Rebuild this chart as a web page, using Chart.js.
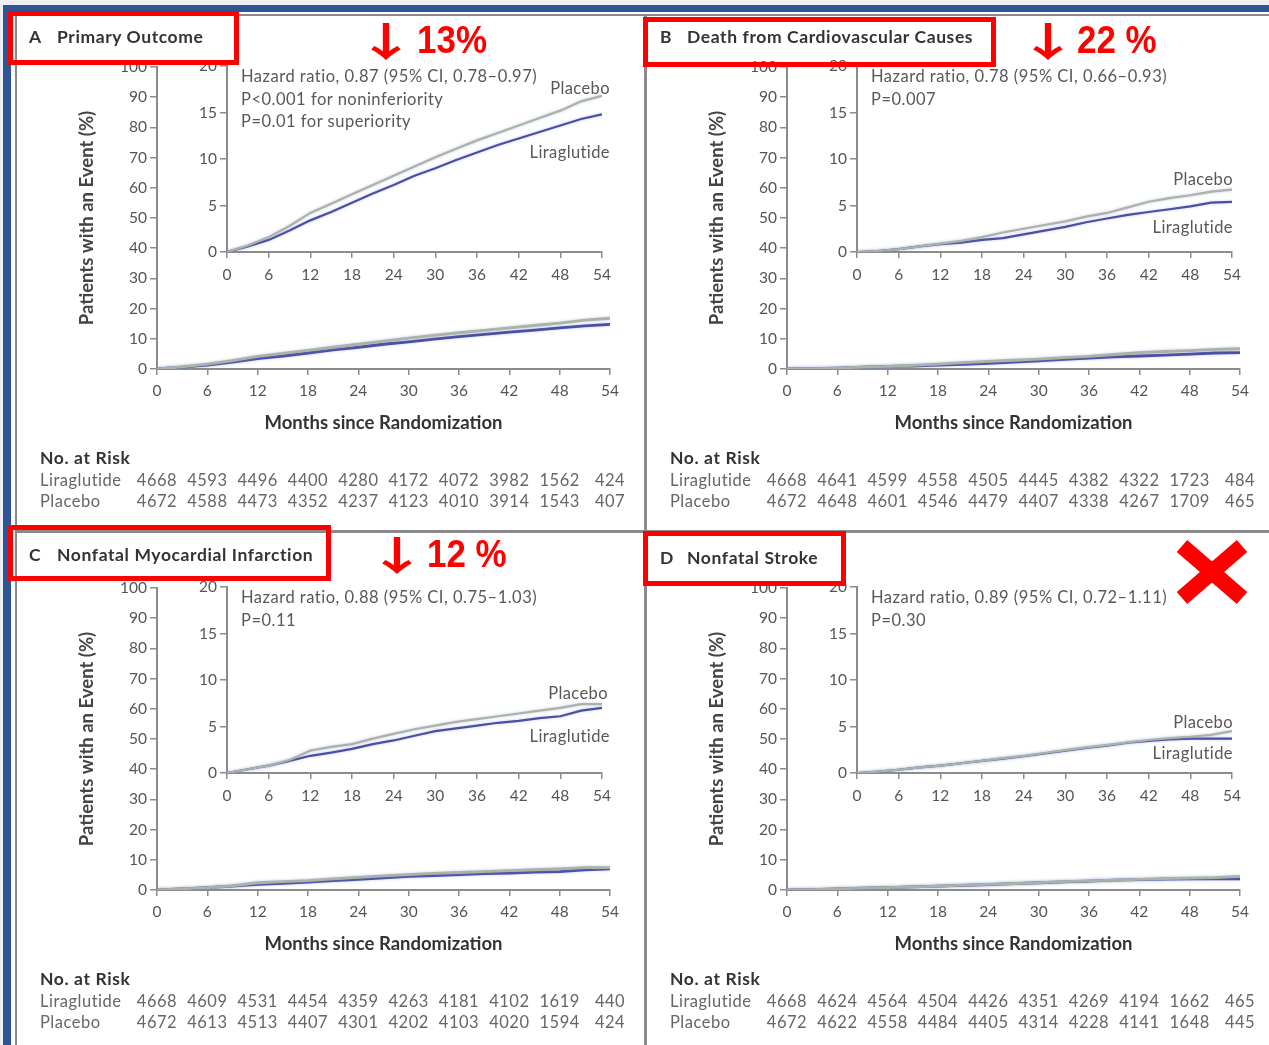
<!DOCTYPE html>
<html>
<head>
<meta charset="utf-8">
<title>LEADER trial – cumulative incidence of cardiovascular outcomes</title>
<script src="https://cdn.jsdelivr.net/npm/chart.js@4.4.1/dist/chart.umd.min.js"></script>
<style>
  html, body { margin: 0; padding: 0; background: #fff; }
  #page { position: relative; width: 1269px; height: 1045px; overflow: hidden; background: #fff;
          font-family: Lato, "Open Sans", "Liberation Sans", sans-serif; }
  .abs { position: absolute; }
  .panel { position: absolute; width: 630px; height: 521px; }
  .panel canvas { position: absolute; }
  .ttl { position: absolute; font-weight: bold; font-size: 17.5px; letter-spacing: 0.6px; color: #333; line-height: 20px; white-space: nowrap; }
  .hr { position: absolute; font-size: 16.5px; letter-spacing: 0.5px; color: #585858; line-height: 18px; white-space: nowrap; }
  .lbl { position: absolute; font-size: 16.5px; letter-spacing: 0.4px; color: #585858; line-height: 18px; white-space: nowrap; text-align: right; }
  .redbox { position: absolute; border: 5px solid #ff0000; box-sizing: border-box; }
  .redtxt { position: absolute; color: #ff0000; font: bold 38px "Liberation Sans", Arial, sans-serif; line-height: 38px;
            white-space: nowrap; transform-origin: left center; transform: scaleX(0.92); }
  .arrow { position: absolute; color: #ff0000; font: bold 40px "Noto Sans CJK SC", "DejaVu Sans", sans-serif; line-height: 40px;
           transform-origin: center center; transform: scale(1.55, 1); }
</style>
</head>
<body>
<div id="page"></div>
<script>
// ---- Time points (months since randomization) ----
const months = [0, 3, 6, 9, 12, 15, 18, 21, 24, 27, 30, 33, 36, 39, 42, 45, 48, 51, 54];
const riskMonths = [0, 6, 12, 18, 24, 30, 36, 42, 48, 54];

// ---- Cumulative incidence (%) ----
const primaryPlacebo     = [0, 0.7, 1.6, 2.8, 4.2, 5.2, 6.2, 7.2, 8.2, 9.2, 10.2, 11.1, 12.0, 12.8, 13.6, 14.4, 15.2, 16.2, 16.8];
const primaryLiraglutide = [0, 0.6, 1.3, 2.3, 3.4, 4.3, 5.3, 6.3, 7.2, 8.2, 9.0, 9.9, 10.7, 11.5, 12.2, 12.9, 13.6, 14.3, 14.8];

const cvDeathPlacebo     = [0, 0.1, 0.3, 0.6, 0.9, 1.2, 1.6, 2.1, 2.5, 2.9, 3.3, 3.8, 4.2, 4.8, 5.4, 5.8, 6.1, 6.5, 6.7];
const cvDeathLiraglutide = [0, 0.1, 0.3, 0.6, 0.85, 1.0, 1.3, 1.5, 1.9, 2.3, 2.7, 3.2, 3.6, 4.0, 4.3, 4.6, 4.9, 5.3, 5.4];

const miPlacebo          = [0, 0.4, 0.8, 1.4, 2.4, 2.8, 3.1, 3.7, 4.2, 4.7, 5.1, 5.5, 5.8, 6.1, 6.4, 6.7, 7.0, 7.4, 7.4];
const miLiraglutide      = [0, 0.4, 0.8, 1.3, 1.85, 2.2, 2.6, 3.1, 3.5, 4.0, 4.5, 4.8, 5.1, 5.4, 5.6, 5.9, 6.1, 6.7, 7.0];

const strokePlacebo      = [0, 0.15, 0.35, 0.6, 0.8, 1.05, 1.3, 1.6, 1.85, 2.15, 2.45, 2.75, 3.0, 3.3, 3.55, 3.75, 3.9, 4.1, 4.5];
const strokeLiraglutide  = [0, 0.15, 0.35, 0.6, 0.8, 1.05, 1.3, 1.55, 1.8, 2.1, 2.4, 2.7, 2.95, 3.25, 3.45, 3.6, 3.7, 3.7, 3.7];

// ---- Number at risk ----
const riskPrimaryLira = [4668, 4593, 4496, 4400, 4280, 4172, 4072, 3982, 1562, 424];
const riskPrimaryPlac = [4672, 4588, 4473, 4352, 4237, 4123, 4010, 3914, 1543, 407];
const riskCvLira      = [4668, 4641, 4599, 4558, 4505, 4445, 4382, 4322, 1723, 484];
const riskCvPlac      = [4672, 4648, 4601, 4546, 4479, 4407, 4338, 4267, 1709, 465];
const riskMiLira      = [4668, 4609, 4531, 4454, 4359, 4263, 4181, 4102, 1619, 440];
const riskMiPlac      = [4672, 4613, 4513, 4407, 4301, 4202, 4103, 4020, 1594, 424];
const riskStrokeLira  = [4668, 4624, 4564, 4504, 4426, 4351, 4269, 4194, 1662, 465];
const riskStrokePlac  = [4672, 4622, 4558, 4484, 4405, 4314, 4228, 4141, 1648, 445];

// ---- Panel text ----
const panelLetters = ['A', 'B', 'C', 'D'];
const panelTitles  = ['Primary Outcome', 'Death from Cardiovascular Causes', 'Nonfatal Myocardial Infarction', 'Nonfatal Stroke'];
const hazardLines  = [
  ['Hazard ratio, 0.87 (95% CI, 0.78\u20130.97)', 'P<0.001 for noninferiority', 'P=0.01 for superiority'],
  ['Hazard ratio, 0.78 (95% CI, 0.66\u20130.93)', 'P=0.007'],
  ['Hazard ratio, 0.88 (95% CI, 0.75\u20131.03)', 'P=0.11'],
  ['Hazard ratio, 0.89 (95% CI, 0.72\u20131.11)', 'P=0.30']
];
const reductionLabels = ['13%', '22 %', '12 %', null];

// ---- Styling / layout ----
const PLACEBO_COLOR = '#aab3a6';
const LIRA_COLOR    = '#4a4fa3';
const AXIS_COLOR    = '#8c8c8c';
const TICK_COLOR    = '#555';
const FONT_STACK    = 'Lato, "Open Sans", sans-serif';

const panels = [
  { x: 0,   y: 0,   plac: primaryPlacebo, lira: primaryLiraglutide, rl: riskPrimaryLira, rp: riskPrimaryPlac,
    titleY: 37, placLbl: { r: 610, y: 88 },  liraLbl: { r: 610, y: 152 } },
  { x: 630, y: 0,   plac: cvDeathPlacebo, lira: cvDeathLiraglutide, rl: riskCvLira, rp: riskCvPlac,
    titleY: 37, placLbl: { r: 603, y: 179 }, liraLbl: { r: 603, y: 227 } },
  { x: 0,   y: 521, plac: miPlacebo, lira: miLiraglutide, rl: riskMiLira, rp: riskMiPlac,
    titleY: 34, placLbl: { r: 608, y: 172 }, liraLbl: { r: 610, y: 215 } },
  { x: 630, y: 521, plac: strokePlacebo, lira: strokeLiraglutide, rl: riskStrokeLira, rp: riskStrokePlac,
    titleY: 37, placLbl: { r: 603, y: 201 }, liraLbl: { r: 603, y: 232 } }
];

const redBoxes = [
  { l: 8,   t: 11,  w: 231, h: 54 },
  { l: 643, t: 17,  w: 353, h: 50 },
  { l: 8,   t: 525, w: 323, h: 56 },
  { l: 643, t: 531, w: 203, h: 55 }
];
const redTextPos = [
  { arrowX: 386,  textX: 417,  base: 53 },
  { arrowX: 1048, textX: 1077, base: 53 },
  { arrowX: 397,  textX: 427,  base: 567 },
  null
];

Chart.defaults.font.family = FONT_STACK;
Chart.defaults.color = TICK_COLOR;
Chart.defaults.animation = false;

const page = document.getElementById('page');

function addDiv(cls, css, text) {
  const d = document.createElement('div');
  if (cls) d.className = cls;
  Object.assign(d.style, css);
  if (text != null) d.textContent = text;
  return d;
}

// Frame around the figure
page.appendChild(addDiv('abs', { left: '0px', top: '0px', width: '1269px', height: '5px', background: '#eef0f4' }));
page.appendChild(addDiv('abs', { left: '0px', top: '0px', width: '3px', height: '1045px', background: '#eef0f4' }));
page.appendChild(addDiv('abs', { left: '3px', top: '5px', width: '1266px', height: '7px', background: '#2f5597' }));
page.appendChild(addDiv('abs', { left: '3px', top: '5px', width: '8px', height: '1040px', background: '#2f5597' }));
page.appendChild(addDiv('abs', { left: '15px', top: '14px', width: '2px', height: '1031px', background: '#8a8a8a' }));
page.appendChild(addDiv('abs', { left: '15px', top: '14px', width: '1254px', height: '2px', background: '#8a8a8a' }));
page.appendChild(addDiv('abs', { left: '644px', top: '14px', width: '3px', height: '1031px', background: '#8a8a8a' }));
page.appendChild(addDiv('abs', { left: '15px', top: '530px', width: '1254px', height: '3px', background: '#8a8a8a' }));

function toXY(xs, ys) { return xs.map((x, i) => ({ x: x, y: ys[i] })); }

function axis(min, max, step, tickLen, pad, size) {
  return {
    type: 'linear', min: min, max: max,
    ticks: { stepSize: step, font: { size: size }, color: TICK_COLOR, padding: pad, maxRotation: 0, autoSkip: false },
    grid: { drawOnChartArea: false, drawTicks: true, tickLength: tickLen, color: AXIS_COLOR, lineWidth: 1.5 },
    border: { display: true, color: AXIS_COLOR, width: 2 }
  };
}

function seriesData(p, width) {
  return [
    { label: 'Placebo', data: toXY(months, p.plac), borderColor: PLACEBO_COLOR, borderWidth: width,
      pointRadius: 0, tension: 0 },
    { label: 'Liraglutide', data: toXY(months, p.lira), borderColor: LIRA_COLOR, borderWidth: width,
      pointRadius: 0, tension: 0 }
  ];
}

// Soft bluish fringe around the curves, as in the printed figure
const curveHalo = {
  id: 'curveHalo',
  beforeDatasetsDraw(chart) {
    const ctx = chart.ctx;
    ctx.save();
    ctx.shadowColor = 'rgba(120, 140, 215, 0.45)';
    ctx.shadowBlur = 3;
  },
  afterDatasetsDraw(chart) {
    chart.ctx.restore();
  }
};

// Draws the "No. at Risk" table aligned with the main x axis
const riskTable = {
  id: 'riskTable',
  afterDraw(chart, args, opts) {
    const ctx = chart.ctx, xs = chart.scales.x;
    ctx.save();
    ctx.textBaseline = 'middle';
    ctx.textAlign = 'left';
    ctx.fillStyle = '#333';
    ctx.font = 'bold 17.5px ' + FONT_STACK;
    ctx.letterSpacing = '0.6px';
    ctx.fillText('No. at Risk', 40, 458);
    ctx.font = '16.5px ' + FONT_STACK;
    ctx.letterSpacing = '0.5px';
    ctx.fillStyle = '#666';
    ctx.fillText('Liraglutide', 40, 481);
    ctx.fillText('Placebo', 40, 502);
    ctx.textAlign = 'center';
    opts.lira.forEach((v, i) => ctx.fillText(String(v), xs.getPixelForValue(riskMonths[i]), 481));
    opts.plac.forEach((v, i) => ctx.fillText(String(v), xs.getPixelForValue(riskMonths[i]), 502));
    ctx.restore();
  }
};

panels.forEach((p, idx) => {
  const wrap = addDiv('panel', { left: p.x + 'px', top: p.y + 'px' });
  page.appendChild(wrap);

  // Full-scale plot (0–100 %)
  const mainCv = document.createElement('canvas');
  mainCv.width = 630; mainCv.height = 521;
  Object.assign(mainCv.style, { left: '0px', top: '0px', width: '630px', height: '521px' });
  wrap.appendChild(mainCv);

  const xMain = axis(0, 54, 6, 6, 7, 15.5);
  xMain.title = { display: true, text: 'Months since Randomization', color: '#333',
                  font: { size: 18.5, weight: 'bold' }, padding: 0 };
  xMain.afterFit = s => { s.height = 65; };
  const yMain = axis(0, 100, 10, 7, 3, 15.5);
  yMain.title = { display: true, text: 'Patients with an Event (%)', color: '#444',
                  font: { size: 18.5, weight: 'bold' }, padding: 0 };
  yMain.afterFit = s => { s.width = 81; };

  new Chart(mainCv, {
    type: 'line',
    data: { datasets: seriesData(p, 2.8) },
    options: {
      responsive: false, animation: false,
      layout: { padding: { left: 76, right: 20, top: 67, bottom: 87 } },
      plugins: { legend: { display: false }, tooltip: { enabled: false },
                 riskTable: { lira: p.rl, plac: p.rp } },
      scales: { x: xMain, y: yMain }
    },
    plugins: [riskTable, curveHalo]
  });

  // Zoomed inset (0–20 %)
  const insCv = document.createElement('canvas');
  insCv.width = 440; insCv.height = 250;
  Object.assign(insCv.style, { left: '180px', top: '50px', width: '440px', height: '250px' });
  wrap.appendChild(insCv);

  const xIns = axis(0, 54, 6, 6, 8, 15.5);
  xIns.afterFit = s => { s.height = 30; };
  const yIns = axis(0, 20, 5, 7, 3, 15.5);
  yIns.afterFit = s => { s.width = 47; };

  new Chart(insCv, {
    type: 'line',
    data: { datasets: seriesData(p, 2.2) },
    options: {
      responsive: false, animation: false,
      layout: { padding: { left: 0, right: 18, top: 16, bottom: 18 } },
      plugins: { legend: { display: false }, tooltip: { enabled: false } },
      scales: { x: xIns, y: yIns }
    },
    plugins: [curveHalo]
  });

  // Panel heading
  wrap.appendChild(addDiv('ttl', { left: (idx % 2 ? 30 : 29) + 'px', top: (p.titleY - 10) + 'px' }, panelLetters[idx]));
  wrap.appendChild(addDiv('ttl', { left: '57px', top: (p.titleY - 10) + 'px' }, panelTitles[idx]));

  // Hazard ratio block
  hazardLines[idx].forEach((t, k) => {
    wrap.appendChild(addDiv('hr', { left: '241px', top: (76 - 9 + k * 22.5) + 'px' }, t));
  });

  // Series labels
  wrap.appendChild(addDiv('lbl', { right: (630 - p.placLbl.r) + 'px', top: (p.placLbl.y - 9) + 'px' }, 'Placebo'));
  wrap.appendChild(addDiv('lbl', { right: (630 - p.liraLbl.r) + 'px', top: (p.liraLbl.y - 9) + 'px' }, 'Liraglutide'));
});

// Red highlights
redBoxes.forEach(b => {
  page.appendChild(addDiv('redbox', { left: b.l + 'px', top: b.t + 'px', width: b.w + 'px', height: b.h + 'px' }));
});
reductionLabels.forEach((txt, i) => {
  const pos = redTextPos[i];
  if (!txt || !pos) return;
  page.appendChild(addDiv('arrow', { left: (pos.arrowX - 20) + 'px', top: (pos.base - 34) + 'px', width: '40px', textAlign: 'center' }, '\u2193'));
  page.appendChild(addDiv('redtxt', { left: pos.textX + 'px', top: (pos.base - 32) + 'px' }, txt));
});

// Red cross on the stroke panel
const svgNS = 'http://www.w3.org/2000/svg';
const svg = document.createElementNS(svgNS, 'svg');
svg.setAttribute('width', '1269'); svg.setAttribute('height', '1045');
Object.assign(svg.style, { position: 'absolute', left: '0px', top: '0px', pointerEvents: 'none' });
[[1182, 546, 1242, 598], [1242, 546, 1182, 598]].forEach(c => {
  const ln = document.createElementNS(svgNS, 'line');
  ln.setAttribute('x1', c[0]); ln.setAttribute('y1', c[1]);
  ln.setAttribute('x2', c[2]); ln.setAttribute('y2', c[3]);
  ln.setAttribute('stroke', '#ff0000'); ln.setAttribute('stroke-width', '16');
  svg.appendChild(ln);
});
page.appendChild(svg);
</script>
</body>
</html>
